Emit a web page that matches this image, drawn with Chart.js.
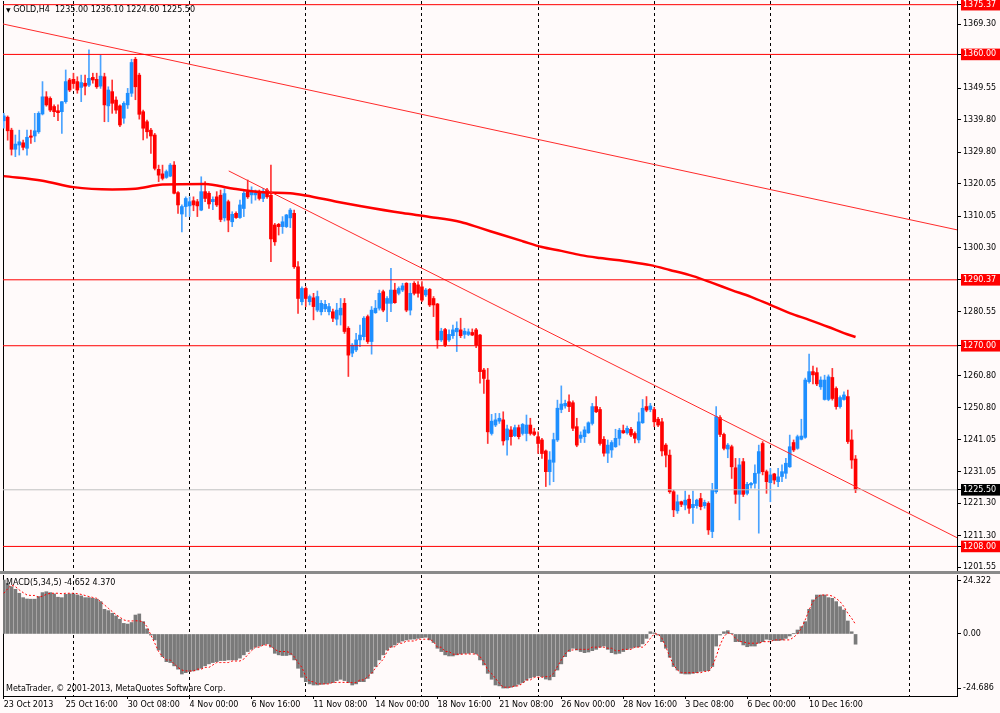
<!DOCTYPE html>
<html>
<head>
<meta charset="utf-8">
<script src="https://cdn.jsdelivr.net/npm/chart.js@4.4.1/dist/chart.umd.min.js"></script>
<style>
  html, body { margin: 0; padding: 0; background: #fffafa; }
  #wrap { position: relative; width: 1000px; height: 713px; overflow: hidden; background: #fffafa; }
  canvas { position: absolute; left: 0; }
  #main { top: 0; }
  #macd { top: 575px; }
  #sep { position: absolute; left: 0; top: 571px; width: 1000px; height: 3px; background: #8a8a8a; }
  .txt { position: absolute; font-family: 'DejaVu Sans'; font-size: 8px; color: #000; white-space: pre; }
</style>
</head>
<body>
<div id="wrap">
  <canvas id="main" width="1000" height="572"></canvas>
  <div id="sep"></div>
  <canvas id="macd" width="1000" height="138"></canvas>
  <div class="txt" style="left:6px;top:5px;"><span style="font-size:6px;">▼</span> GOLD,H4  1235.00 1236.10 1224.60 1225.50</div>
  <div class="txt" style="left:6px;top:578px;">MACD(5,34,5) -4.652 4.370</div>
  <div class="txt" style="left:6px;top:684px;">MetaTrader, © 2001-2013, MetaQuotes Software Corp.</div>
</div>
<script>
// H4 candles, bar 0 = 23 Oct 2013 00:00
var opens = [
  1339.5,1340.6,1336.6,1330.7,1332.0,1332.7,1331.0,1334.8,1334.8,1336.1,
  1341.6,1346.9,1346.4,1343.9,1342.6,1342.3,1345.4,1352.1,1352.3,1351.6,
  1349.8,1351.1,1350.5,1352.9,1352.3,1350.2,1353.1,1344.1,1348.5,1345.9,
  1344.1,1340.3,1344.4,1348.0,1358.5,1353.6,1342.3,1339.2,1336.6,1335.1,
  1324.5,1323.1,1322.0,1322.4,1325.8,1317.3,1310.7,1313.0,1313.2,1314.8,
  1314.5,1311.9,1317.6,1317.1,1314.5,1316.0,1316.5,1309.5,1314.5,1308.3,
  1310.9,1309.6,1312.4,1317.6,1316.6,1316.6,1317.6,1315.5,1318.1,1316.5,
  1307.3,1307.5,1306.8,1306.8,1309.5,1310.9,1294.4,1283.6,1287.7,1283.6,
  1284.8,1281.0,1280.5,1281.4,1280.5,1280.5,1278.2,1279.5,1283.1,1275.4,
  1267.7,1268.7,1271.8,1272.8,1279.0,1271.3,1280.2,1281.6,1286.7,1283.1,
  1283.1,1287.2,1286.2,1287.2,1289.3,1281.0,1289.3,1288.8,1288.2,1285.7,
  1287.4,1284.6,1282.9,1271.8,1275.0,1271.8,1273.1,1274.3,1274.9,1273.5,
  1273.5,1274.1,1274.9,1273.3,1262.5,1259.4,1242.9,1245.5,1246.7,1247.1,
  1240.9,1244.0,1242.2,1244.7,1242.9,1242.9,1245.5,1243.4,1241.9,1240.9,
  1237.5,1231.1,1234.0,1240.9,1250.3,1251.4,1252.7,1252.4,1245.0,1241.4,
  1241.9,1243.1,1246.0,1251.2,1250.3,1241.1,1236.8,1237.8,1238.8,1241.4,
  1243.8,1243.1,1244.2,1242.9,1240.9,1246.2,1251.2,1250.3,1250.3,1247.3,
  1246.5,1239.3,1236.2,1224.9,1219.0,1221.8,1220.8,1222.6,1220.0,1220.6,
  1222.8,1220.6,1221.3,1212.6,1224.9,1247.8,1242.6,1238.1,1238.8,1232.3,
  1224.1,1234.2,1224.4,1227.0,1227.5,1230.6,1239.8,1231.1,1227.7,1230.4,
  1228.0,1229.6,1230.6,1232.6,1240.1,1238.3,1241.1,1241.7,1258.9,1262.0,
  1261.7,1257.3,1253.4,1253.4,1260.2,1256.8,1251.2,1253.4,1254.3,1240.9,
  1235.0
];
var highs = [
  1341.8,1341.0,1337.2,1335.1,1336.6,1333.5,1336.6,1336.6,1341.8,1342.3,
  1351.6,1348.5,1346.9,1344.4,1344.4,1345.4,1355.2,1352.6,1354.2,1353.1,
  1353.6,1353.6,1361.4,1354.2,1354.2,1359.8,1354.2,1350.0,1352.1,1346.9,
  1344.4,1345.4,1349.5,1358.5,1359.1,1354.2,1342.8,1339.7,1337.2,1335.6,
  1325.8,1325.8,1324.3,1326.3,1326.9,1317.6,1313.5,1316.0,1316.0,1316.0,
  1315.2,1322.2,1320.7,1317.6,1316.0,1317.6,1318.1,1318.5,1315.0,1311.4,
  1311.4,1315.0,1318.1,1321.2,1319.1,1318.1,1318.1,1318.6,1318.6,1325.8,
  1307.8,1307.8,1309.9,1310.6,1312.4,1311.9,1296.0,1288.2,1288.2,1285.7,
  1286.2,1286.9,1284.0,1284.0,1283.1,1281.3,1283.1,1284.6,1284.6,1275.9,
  1270.7,1273.8,1276.4,1279.0,1279.5,1282.1,1284.0,1287.2,1287.2,1285.2,
  1293.9,1289.3,1288.2,1289.3,1289.5,1289.3,1289.8,1289.8,1289.8,1287.7,
  1287.7,1285.2,1283.1,1275.4,1275.4,1274.9,1276.4,1277.4,1278.5,1275.4,
  1275.2,1275.2,1275.4,1273.5,1263.0,1263.0,1248.8,1249.1,1249.1,1249.6,
  1245.5,1245.0,1245.5,1245.5,1246.0,1248.6,1247.6,1244.5,1243.4,1241.4,
  1237.8,1237.3,1243.0,1253.2,1257.6,1253.2,1254.8,1253.0,1247.6,1243.4,
  1245.0,1246.5,1252.2,1254.3,1251.0,1241.9,1240.9,1240.7,1244.2,1244.5,
  1245.5,1245.2,1244.8,1243.4,1249.3,1253.4,1254.3,1252.2,1251.0,1247.9,
  1247.6,1239.8,1237.8,1225.4,1223.9,1222.0,1225.1,1223.9,1225.1,1222.6,
  1224.4,1222.3,1221.8,1227.5,1251.2,1248.4,1243.0,1239.8,1239.3,1235.2,
  1235.2,1235.2,1227.8,1227.8,1233.2,1239.3,1240.4,1231.6,1232.1,1230.6,
  1232.1,1233.2,1235.2,1242.4,1240.9,1242.4,1247.3,1260.0,1267.4,1263.7,
  1263.2,1260.4,1260.9,1261.0,1263.0,1257.3,1254.5,1255.8,1256.3,1244.0,
  1236.1
];
var lows = [
  1337.2,1333.5,1328.9,1328.4,1328.9,1330.5,1328.9,1332.5,1333.0,1335.6,
  1341.3,1344.0,1342.3,1340.8,1339.5,1335.6,1344.9,1348.5,1349.5,1348.0,
  1345.4,1347.5,1350.0,1351.1,1349.5,1349.5,1339.2,1339.2,1341.8,1341.8,
  1337.7,1338.7,1343.3,1347.0,1346.0,1340.0,1333.6,1334.1,1329.4,1324.3,
  1320.7,1321.2,1321.7,1322.2,1316.9,1310.9,1305.2,1309.9,1309.9,1311.7,
  1309.9,1311.7,1314.5,1312.4,1312.0,1313.0,1308.3,1308.5,1305.2,1306.8,
  1309.3,1309.3,1309.9,1315.5,1314.0,1315.0,1315.0,1314.5,1315.5,1296.0,
  1301.0,1304.2,1304.7,1306.5,1306.5,1293.9,1280.0,1282.6,1282.1,1282.6,
  1278.0,1280.5,1279.5,1280.5,1279.5,1277.4,1276.4,1276.4,1273.8,1260.5,
  1266.6,1268.2,1269.7,1271.8,1270.7,1267.4,1280.0,1281.0,1280.5,1277.4,
  1280.5,1283.1,1285.7,1286.7,1280.5,1279.5,1285.7,1285.0,1283.6,1285.2,
  1282.1,1279.0,1269.2,1271.3,1269.7,1271.3,1272.3,1268.2,1272.5,1272.3,
  1273.1,1273.1,1269.4,1258.4,1255.3,1239.8,1242.4,1245.0,1246.0,1239.3,
  1236.2,1239.3,1241.9,1241.2,1242.4,1240.6,1242.4,1242.2,1236.7,1235.2,
  1226.5,1227.0,1228.0,1240.4,1249.3,1250.7,1249.6,1243.8,1238.8,1240.1,
  1240.1,1242.9,1245.5,1249.3,1239.3,1235.9,1233.9,1235.5,1238.6,1239.3,
  1242.9,1242.7,1241.9,1240.0,1240.0,1246.0,1249.6,1249.6,1245.0,1245.0,
  1236.0,1232.6,1224.4,1217.2,1218.2,1220.3,1219.3,1218.2,1215.1,1219.8,
  1219.3,1219.8,1211.7,1210.7,1224.4,1241.9,1237.8,1235.4,1229.0,1221.3,
  1216.2,1223.4,1223.9,1226.0,1226.0,1212.1,1230.1,1224.4,1221.8,1227.3,
  1226.5,1228.0,1229.0,1232.4,1237.3,1238.0,1240.9,1241.4,1258.4,1258.2,
  1257.7,1256.5,1253.2,1253.0,1253.2,1250.4,1250.7,1253.2,1239.8,1232.1,
  1224.6
];
var closes = [
  1341.0,1336.4,1330.7,1332.3,1333.0,1331.3,1334.4,1334.4,1336.4,1341.8,
  1346.9,1344.4,1342.8,1342.3,1342.0,1345.4,1351.6,1349.0,1351.0,1349.0,
  1351.3,1350.2,1352.6,1352.1,1350.0,1353.3,1344.4,1349.0,1344.9,1342.8,
  1338.2,1344.9,1348.0,1357.5,1350.0,1341.5,1337.2,1336.1,1334.8,1324.8,
  1322.7,1321.7,1323.8,1325.8,1317.1,1313.5,1313.0,1315.5,1314.5,1313.5,
  1313.2,1317.6,1315.5,1313.8,1315.2,1313.5,1309.0,1317.0,1308.8,1310.6,
  1309.6,1313.5,1317.1,1316.0,1317.6,1317.1,1315.5,1317.6,1316.0,1303.0,
  1302.1,1306.8,1308.3,1310.4,1311.9,1294.4,1284.6,1287.7,1284.6,1285.2,
  1282.1,1285.2,1283.1,1282.8,1282.1,1278.5,1281.0,1281.6,1274.4,1267.1,
  1270.2,1271.8,1273.3,1278.5,1271.3,1281.0,1281.6,1286.2,1281.0,1284.6,
  1287.2,1283.3,1287.7,1288.5,1281.0,1286.2,1286.2,1286.2,1284.1,1287.2,
  1282.6,1282.6,1271.8,1274.5,1270.2,1273.5,1274.9,1275.4,1273.1,1274.5,
  1274.3,1273.3,1270.2,1262.0,1259.9,1243.4,1246.7,1247.1,1247.6,1240.6,
  1244.3,1241.9,1244.7,1241.9,1245.7,1245.5,1242.9,1242.6,1239.8,1236.7,
  1231.1,1234.7,1241.0,1250.7,1252.0,1252.2,1251.2,1244.5,1239.3,1242.4,
  1244.0,1246.2,1251.2,1249.6,1239.8,1236.8,1239.3,1240.1,1241.4,1243.9,
  1243.1,1244.5,1242.4,1241.4,1246.5,1250.7,1250.1,1251.4,1246.5,1245.5,
  1237.5,1236.2,1224.9,1219.3,1221.8,1221.0,1222.3,1219.8,1221.0,1222.3,
  1220.3,1221.6,1213.1,1225.4,1248.1,1242.6,1238.3,1239.3,1232.6,1224.1,
  1233.2,1224.1,1227.2,1227.5,1230.6,1237.3,1231.1,1228.0,1230.1,1228.5,
  1229.5,1231.1,1233.7,1238.8,1237.8,1241.9,1242.1,1259.4,1262.0,1261.0,
  1258.2,1259.4,1259.4,1260.4,1253.7,1251.2,1254.0,1254.8,1240.4,1234.7,
  1225.5
];

// moving average, read at selected bars
var maBars   = [0, 10, 18, 28, 34, 41, 52, 59, 67, 74, 78, 86, 92, 103, 110, 118, 123, 128, 134, 139,
                144, 149, 154, 162, 167, 172, 178, 183, 188, 193, 198, 203, 208, 213, 217, 220];
var maValues = [1322.4, 1321.0, 1319.0, 1318.3, 1318.5, 1319.8, 1320.0, 1318.6, 1317.4, 1317.1, 1316.4, 1314.5, 1313.2, 1311.0, 1309.8, 1308.2, 1306.4, 1304.5, 1302.3, 1300.5,
                1299.3, 1298.0, 1297.1, 1295.9, 1294.9, 1293.4, 1291.5, 1289.4, 1287.2, 1285.1, 1282.6, 1280.1, 1278.0, 1275.8, 1273.9, 1272.7];

// trend lines [bar, price]
var trendUpper = [[-0.2, 1369.4], [246.2, 1305.8]];
var trendLower = [[58.1, 1324.0], [246.2, 1210.7]];

// horizontal levels and last price
var levels = [1375.37, 1360.00, 1290.37, 1270.00, 1208.00];
var lastPrice = 1225.50;

// MACD(5,34,5)
var macdHist = [
  24.5,23,21.5,20.3,18.5,16.5,15.9,15.8,15.8,17,
  18.8,19.2,18.8,18.2,16.7,16.5,18,18.2,18.2,17.7,
  17.3,16.5,16.5,16.2,15.8,14.7,11.2,10.6,9.4,8.2,
  6.7,4.8,4.5,5.2,8.6,9.1,5.6,2.3,-0.5,-2.7,
  -7.3,-10.3,-12.6,-13,-14.5,-16,-18.2,-17.6,-17.1,-16.8,
  -16.4,-15.6,-14.5,-13.6,-13,-12.6,-12.1,-12.1,-11.8,-11.8,
  -11.8,-11,-9.5,-8,-7,-6,-5.5,-5,-4.5,-6,
  -8.8,-9.5,-9.8,-9.8,-9.5,-11.8,-15.6,-19.7,-21.7,-22.7,
  -23.2,-23.2,-22.9,-22.7,-22.4,-22.1,-21.2,-20.6,-21.2,-22.1,
  -23.2,-22.7,-21.7,-21.7,-20.2,-17.9,-14.8,-11.8,-9.5,-7.3,
  -6,-5,-3.9,-3.2,-2.7,-2.4,-2.3,-2,-1.7,-1.5,
  -2.7,-3.9,-6.5,-8,-9.5,-10,-10,-9.5,-9.1,-8.8,
  -8.8,-8.5,-9.1,-11.8,-14.1,-17.9,-20.6,-23.2,-23.6,-24.6,
  -24.6,-24.2,-23.8,-22.9,-22.1,-21,-20,-19.4,-19,-19.4,
  -20.5,-20.9,-19.4,-16.4,-13.6,-10.3,-8,-6.5,-7.3,-8,
  -8.5,-8.2,-7.6,-7,-6,-5.5,-7,-8.5,-9.1,-8.8,
  -8,-7,-6.5,-6,-5.8,-4.5,-2,1,0.5,-0.5,
  -3.5,-6.5,-10.6,-14.8,-16.4,-17.9,-18.2,-18.2,-17.9,-17.6,
  -17,-16.8,-16.7,-14.8,-5.5,-0.5,1,1.5,0.3,-3.5,
  -3.5,-5,-5.8,-5.5,-5.5,-4.2,-3.5,-2.4,-2.7,-3,
  -3,-2.7,-2,-0.9,0.3,1.8,3.3,5.6,11.2,15.5,
  17.7,17.7,17.7,16.5,16.2,14.7,12.4,10.9,5.9,1,
  -4.652
];
var macdSignal = [
  18.5,20.5,22.3,21.5,20,18.8,17.7,17.5,17.5,16.7,
  17.2,18,18.5,18.5,18.5,18.3,18.5,18.5,18.5,18.3,
  18,17.5,17,16.6,16.2,14.7,13.2,11.7,10.2,8.8,
  7.6,6.4,5.9,5.9,6,5.9,5.6,3.3,-0.5,-4.2,
  -8,-10.3,-11.8,-11.8,-13.6,-15.2,-16.4,-16.8,-16.8,-16.8,
  -16,-16,-15.2,-15.2,-14.1,-13,-13,-13,-13,-12.3,
  -12.3,-12.3,-11.4,-9.5,-7.6,-6,-6,-5,-5,-5.5,
  -7,-8,-8,-8,-8.5,-10.3,-13,-15.2,-19.4,-21.5,
  -21.8,-22.7,-22.7,-22.7,-22.7,-22,-22,-22,-22,-22.1,
  -22.1,-22.1,-20.9,-20.9,-19.4,-17.9,-15.5,-13.5,-11.5,-8,
  -5.8,-5.8,-4.2,-4.2,-3.2,-3.2,-3.2,-2.4,-2.4,-2.4,
  -2.3,-3.5,-6,-6,-8,-8,-9.2,-9.2,-9.2,-9.1,
  -9.1,-9.1,-9.1,-10.3,-12.6,-16.4,-18,-20.2,-22.4,-24.2,
  -24.2,-24.2,-23.6,-23.6,-22.4,-20.9,-20.9,-19.7,-19.7,-19.7,
  -19.4,-19.4,-17.9,-14.8,-11.8,-9.1,-7.3,-7.3,-7,-7,
  -7,-7,-6,-6,-6,-6,-6.5,-6.5,-7.6,-7.6,
  -7,-7,-7,-6,-6,-6,-4.5,-2,0,0,
  -2,-5.8,-10.3,-14.1,-16.4,-17.6,-17.6,-17.6,-17.6,-17.6,
  -17.6,-17,-17,-14.8,-10.3,-5,-1.2,0.6,0,-2,
  -3.5,-3.5,-4.2,-4.2,-4.2,-4.2,-3.5,-3.5,-3.5,-2.7,
  -2.7,-2.7,-2.7,-2.7,-1.5,0,2.6,6.4,10.9,14.7,
  16.7,17.7,17.7,17.7,17.2,16.2,14.7,12.4,9.4,7.1,
  4.37
];

// axes
var xMin = -0.2, xMax = 246.2;
var weekLines = [18, 48, 78, 108, 138, 168, 198, 234];
var xTickLabels = ['23 Oct 2013', '25 Oct 16:00', '30 Oct 08:00', '4 Nov 00:00', '6 Nov 16:00', '11 Nov 08:00',
                   '14 Nov 00:00', '18 Nov 16:00', '21 Nov 08:00', '26 Nov 00:00', '28 Nov 16:00', '3 Dec 08:00',
                   '6 Dec 00:00', '10 Dec 16:00'];
var xTickStep = 16;
var priceTicks = [1369.30, 1349.55, 1339.80, 1329.80, 1320.05, 1310.05, 1300.30, 1280.55, 1260.80, 1250.80,
                  1241.05, 1231.05, 1221.30, 1211.30, 1201.55];
var macdTickValues = [24.322, 0, -24.686];
var macdTickLabels = ['24.322', '0.00', '-24.686'];

var BULL = '#1e8fff', BEAR = '#ff0000';
var BULL_WICK = '#4aa3ff', BEAR_WICK = '#ff3333';

Chart.defaults.font.family = 'DejaVu Sans';
Chart.defaults.font.size = 8;
Chart.defaults.color = '#000';

function isUp(i) { return closes[i] >= opens[i]; }

var wickData = opens.map(function (o, i) { return { x: i, y: [lows[i], highs[i]] }; });
var bodyData = opens.map(function (o, i) { return { x: i, y: [o, closes[i]] }; });
var maData = maBars.map(function (b, k) { return { x: b, y: maValues[k] }; });

function hline(v, color) {
  return {
    type: 'line', data: [{ x: xMin, y: v }, { x: xMax, y: v }],
    borderColor: color, borderWidth: 1, pointRadius: 0, xAxisID: 'xg', yAxisID: 'y', order: 0
  };
}
function seg(pts, color) {
  return {
    type: 'line', data: pts.map(function (p) { return { x: p[0], y: p[1] }; }),
    borderColor: color, borderWidth: 1, pointRadius: 0, xAxisID: 'xg', yAxisID: 'y', order: 0
  };
}

function zeroPad(s) { s.paddingTop = 0; s.paddingBottom = 0; s.paddingLeft = 0; s.paddingRight = 0; }

function gridX() {
  return {
    type: 'linear', position: 'bottom', min: xMin, max: xMax, offset: false,
    afterBuildTicks: function (s) { s.ticks = weekLines.map(function (v) { return { value: v }; }); },
    afterFit: function (s) { s.height = 0; zeroPad(s); },
    ticks: { display: false, autoSkip: false },
    grid: { color: '#000', lineWidth: 1, drawTicks: false, offset: false },
    border: { display: false, dash: [3, 3] }
  };
}
function leftEdge() {
  return {
    type: 'linear', position: 'left',
    afterFit: function (s) { s.width = 3; zeroPad(s); },
    ticks: { display: false }, grid: { display: false },
    border: { color: '#000', width: 1 }
  };
}

var allPriceTicks = priceTicks.concat(levels, [lastPrice]);
function isLevel(v) { return levels.indexOf(v) >= 0; }

var datasets = [];
levels.forEach(function (v) { datasets.push(hline(v, '#ff0000')); });
datasets.push(hline(lastPrice, '#c0c0c0'));
datasets.push(seg(trendUpper, '#ff2a2a'));
datasets.push(seg(trendLower, '#ff2a2a'));
datasets.push({
  type: 'line', data: maData, borderColor: '#ff0000', borderWidth: 2.5, pointRadius: 0,
  cubicInterpolationMode: 'monotone', xAxisID: 'xg', yAxisID: 'y', order: 1
});
datasets.push({
  type: 'bar', data: bodyData, grouped: false, barThickness: 3, borderWidth: 0,
  backgroundColor: function (c) { return isUp(c.dataIndex) ? BULL : BEAR; },
  xAxisID: 'xg', yAxisID: 'y', order: 2
});
datasets.push({
  type: 'bar', data: wickData, grouped: false, barThickness: 1, borderWidth: 0,
  backgroundColor: function (c) { return isUp(c.dataIndex) ? BULL_WICK : BEAR_WICK; },
  xAxisID: 'xg', yAxisID: 'y', order: 3
});

new Chart(document.getElementById('main').getContext('2d'), {
  type: 'bar',
  data: { datasets: datasets },
  options: {
    responsive: false, animation: false, events: [],
    layout: { padding: { top: 1, bottom: 2, left: 0, right: 0 } },
    plugins: { legend: { display: false }, tooltip: { enabled: false } },
    scales: {
      xg: gridX(),
      yl: leftEdge(),
      y: {
        type: 'linear', position: 'right', min: 1200.72, max: 1376.5,
        afterBuildTicks: function (s) { s.ticks = allPriceTicks.map(function (v) { return { value: v }; }); },
        afterFit: function (s) { s.width = 43; zeroPad(s); },
        ticks: {
          autoSkip: false, padding: 2,
          callback: function (v) { return v.toFixed(2); },
          color: function (c) { return (isLevel(c.tick.value) || c.tick.value === lastPrice) ? '#fff' : '#000'; },
          showLabelBackdrop: function (c) { return isLevel(c.tick.value) || c.tick.value === lastPrice; },
          backdropColor: function (c) { return c.tick.value === lastPrice ? '#000' : '#ff0000'; },
          backdropPadding: { top: 1, bottom: 1, left: 2, right: 4 }
        },
        grid: { drawOnChartArea: false, drawTicks: true, tickLength: 4, color: '#000' },
        border: { color: '#000', width: 1 }
      }
    }
  }
});

var histData = macdHist.map(function (v, i) { return { x: i, y: v }; });
var sigData = macdSignal.map(function (v, i) { return { x: i, y: v }; });

new Chart(document.getElementById('macd').getContext('2d'), {
  type: 'bar',
  data: {
    datasets: [
      { type: 'line', data: sigData, borderColor: '#ff0000', borderWidth: 1, borderDash: [2, 2],
        pointRadius: 0, xAxisID: 'xg', yAxisID: 'y2', order: 0 },
      { type: 'bar', data: histData, barThickness: 3, borderWidth: 0, backgroundColor: '#7a7a7a',
        xAxisID: 'xg', yAxisID: 'y2', order: 1 }
    ]
  },
  options: {
    responsive: false, animation: false, events: [],
    layout: { padding: 0 },
    plugins: { legend: { display: false }, tooltip: { enabled: false } },
    scales: {
      xg: gridX(),
      x: {
        type: 'linear', position: 'bottom', min: xMin, max: xMax, offset: false,
        afterBuildTicks: function (s) { s.ticks = xTickLabels.map(function (l, k) { return { value: k * xTickStep }; }); },
        afterFit: function (s) { s.height = 17; zeroPad(s); },
        ticks: {
          autoSkip: false, maxRotation: 0, minRotation: 0, align: 'start', padding: 1,
          callback: function (v, idx) { return xTickLabels[idx]; }
        },
        grid: { drawOnChartArea: false, drawTicks: true, tickLength: 3, color: '#000', offset: false },
        border: { color: '#000', width: 1 }
      },
      yl: leftEdge(),
      y2: {
        type: 'linear', position: 'right', min: -28.2, max: 26.8,
        afterBuildTicks: function (s) { s.ticks = macdTickValues.map(function (v) { return { value: v }; }); },
        afterFit: function (s) { s.width = 43; zeroPad(s); },
        ticks: { autoSkip: false, padding: 2, callback: function (v, idx) { return macdTickLabels[idx]; } },
        grid: { drawOnChartArea: false, drawTicks: true, tickLength: 4, color: '#000' },
        border: { color: '#000', width: 1 }
      }
    }
  }
});
</script>
</body>
</html>
